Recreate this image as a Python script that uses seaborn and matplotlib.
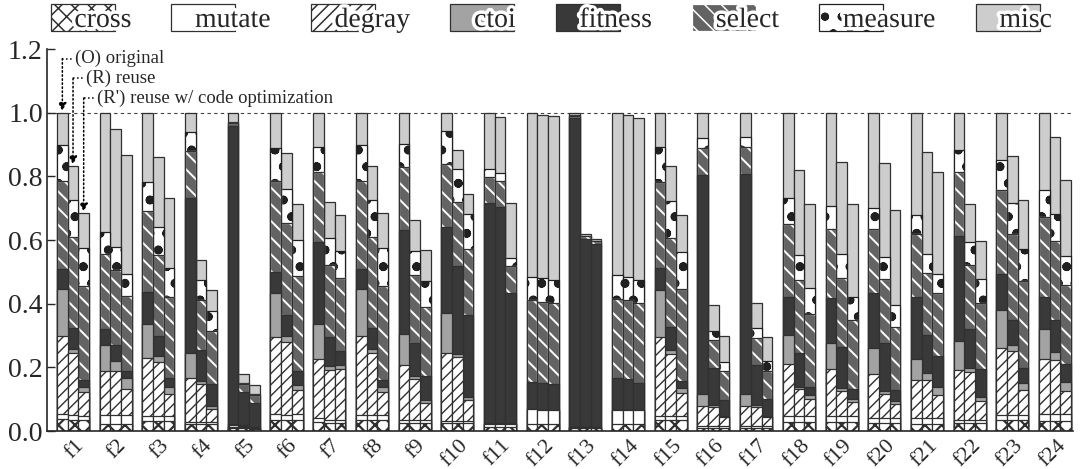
import matplotlib
matplotlib.use("Agg")
import matplotlib.pyplot as plt
import matplotlib.patheffects as pe
import matplotlib.patches as mpatches
import matplotlib.transforms as mtrans
import seaborn as sns
import pandas as pd
import numpy as np

funcs = [f"f{i}" for i in range(1, 25)]
versions = ["O", "R", "R'"]
categories = ["cross", "mutate", "degray", "ctoi", "fitness", "select", "measure", "misc"]

# (O, R, R') per function
cross = [(.037, .034, .034), (.021, .021, .021), (.031, .031, .031), (.021, .021, .021),
         (.008, .008, .005), (.034, .034, .034), (.028, .026, .026), (.034, .034, .034),
         (.026, .026, .026), (.026, .026, .024), (.012, .012, .012), (.023, .023, .023),
         (.008, .008, .008), (.021, .021, .021), (.035, .035, .035), (.008, .008, .008),
         (.008, .008, .008), (.029, .029, .029), (.029, .029, .029), (.026, .026, .026),
         (.023, .023, .023), (.026, .026, .026), (.034, .034, .034), (.031, .031, .031)]
mutate = [(.016, .016, .014), (.028, .028, .028), (.016, .016, .016), (.008, .008, .008),
          (.005, .004, .003), (.019, .016, .019), (.014, .010, .010), (.016, .016, .016),
          (.010, .010, .010), (.007, .007, .007), (.010, .010, .010), (.045, .043, .043),
          (.004, .004, .004), (.044, .044, .044), (.013, .013, .013), (.007, .007, .007),
          (.007, .007, .007), (.018, .018, .018), (.018, .018, .018), (.016, .016, .016),
          (.019, .019, .019), (.010, .010, .010), (.016, .016, .016), (.021, .021, .021)]
degray = [(.246, .195, .075), (.141, .141, .082), (.183, .171, .070), (.136, .120, .039),
          (.005, .005, .003), (.241, .231, .076), (.185, .157, .159), (.249, .195, .073),
          (.170, .128, .052), (.213, .200, .066), (.001, .001, .001), (0, 0, 0),
          (0, 0, 0), (0, 0, 0), (.248, .194, .071), (.065, .061, .028),
          (.065, .061, .028), (.162, .084, .055), (.147, .079, .044), (.138, .073, .042),
          (.117, .117, .070), (.157, .150, .058), (.210, .202, .079), (.173, .171, .075)]
ctoi = [(.147, .013, .016), (.080, .031, .034), (.105, .018, .022), (.081, .007, .009),
        (.003, .003, .002), (.141, .017, .016), (.108, .010, .012), (.147, .013, .016),
        (.099, .008, .010), (.126, .010, .009), (.001, .001, .001), (0, 0, 0),
        (0, 0, 0), (0, 0, 0), (.147, .013, .016), (.035, .005, .005),
        (.035, .005, .005), (.092, .008, .010), (.084, .008, .010), (.080, .010, .010),
        (.068, .024, .026), (.089, .013, .013), (.120, .019, .021), (.097, .026, .027)]
fitness = [(.063, .066, .021), (.049, .050, .022), (.103, .063, .028), (.485, .099, .071),
           (.937, .104, .076), (.065, .066, .044), (.260, .091, .044), (.063, .066, .021),
           (.325, .105, .075), (.269, .274, .260), (.693, .680, .410), (.087, .086, .081),
           (.972, .592, .574), (.100, .097, .085), (.069, .073, .023), (.688, .117, .050),
           (.692, .126, .052), (.120, .105, .025), (.141, .131, .032), (.175, .152, .034),
           (.194, .118, .097), (.332, .120, .087), (.112, .079, .047), (.099, .099, .057)]
select = [(.277, .285, .294), (.236, .236, .238), (.253, .254, .254), (.149, .157, .165),
          (.010, .024, .024), (.286, .289, .298), (.219, .228, .230), (.277, .285, .294),
          (.200, .212, .218), (.197, .202, .206), (.082, .082, .084), (.255, .254, .254),
          (.007, .008, .010), (.250, .250, .251), (.271, .279, .288), (.087, .089, .089),
          (.086, .086, .089), (.230, .230, .231), (.215, .215, .215), (.199, .199, .199),
          (.197, .196, .197), (.199, .204, .209), (.264, .269, .275), (.250, .248, .249)]
measure = [(.112, .117, .120), (.070, .070, .068), (.091, .089, .091), (.060, .063, .065),
           (.002, .003, .002), (.102, .107, .112), (.079, .084, .084), (.112, .117, .120),
           (.073, .076, .079), (.105, .105, .110), (.025, .026, .024), (.074, .075, .073),
           (.002, .002, .002), (.074, .072, .073), (.108, .114, .115), (.031, .028, .031),
           (.031, .031, .031), (.081, .079, .081), (.073, .075, .073), (.068, .070, .069),
           (.060, .060, .060), (.071, .071, .073), (.094, .096, .099), (.085, .087, .089)]
misc = [(.102, .106, .110), (.375, .373, .375), (.218, .219, .220), (.060, .063, .064),
        (.030, .029, .028), (.112, .113, .115), (.107, .112, .112), (.102, .106, .110),
        (.097, .099, .099), (.057, .058, .061), (.176, .173, .175), (.515, .513, .515),
        (.007, .005, .006), (.511, .510, .510), (.109, .111, .118), (.079, .080, .081),
        (.076, .079, .076), (.268, .267, .265), (.293, .291, .293), (.298, .296, .297),
        (.322, .320, .321), (.116, .119, .120), (.150, .150, .154), (.244, .241, .239)]

series = [cross, mutate, degray, ctoi, fitness, select, measure, misc]

# fill, edge (also hatch colour), hatch
styles = {
    "cross":   ("white",   "#303030", "xx"),
    "mutate":  ("white",   "#303030", ""),
    "degray":  ("white",   "#303030", "///"),
    "ctoi":    ("#a3a3a3", "#303030", ""),
    "fitness": ("#393939", "#303030", ""),
    "select":  ("#636363", "white",   "\\\\"),
    "measure": ("white",   "#202020", "o."),
    "misc":    ("#cdcdcd", "#303030", ""),
}

rows = []
for cat, vals in zip(categories, series):
    for f, trip in zip(funcs, vals):
        for v, x in zip(versions, trip):
            rows.append({"func": f, "ver": v, "cat": cat, "val": x})
df = pd.DataFrame(rows)
df["cat"] = pd.Categorical(df["cat"], categories, ordered=True)
df = df.sort_values(["func", "ver", "cat"])
df["cum"] = df.groupby(["func", "ver"], observed=True)["val"].cumsum()

sns.set_style("ticks")
plt.rcParams["font.family"] = ["Liberation Serif", "DejaVu Serif"]
plt.rcParams["hatch.linewidth"] = 1.1

fig = plt.figure(figsize=(10.8, 4.69), dpi=100)
ax = fig.add_axes([0.0435, 0.081, 0.95, 0.8145])


def draw_layer(cat, face, edge, hatch, lw=0.9, hatch_lw=None):
    sub = df[df["cat"] == cat]
    n0 = len(ax.patches)
    sns.barplot(data=sub, x="func", y="cum", hue="ver", order=funcs, hue_order=versions,
                palette=[face] * 3, errorbar=None, width=0.75, legend=False, ax=ax)
    for p in ax.patches[n0:]:
        p.set_facecolor(face)
        p.set_edgecolor(edge)
        p.set_linewidth(lw)
        p.set_hatch(hatch)
        if hatch_lw is not None and hasattr(p, "set_hatch_linewidth"):
            p.set_hatch_linewidth(hatch_lw)


for cat in categories[::-1]:
    face, edge, hatch = styles[cat]
    hlw = {"cross": 1.6, "select": 1.4, "measure": 1.6}.get(cat, 1.0)
    draw_layer(cat, face, edge, hatch, hatch_lw=hlw)
    if cat == "select":
        draw_layer(cat, "none", "#303030", "")

ax.axhline(1.0, color="#404040", ls=(0, (3, 3)), lw=0.8, zorder=0.5)

ax.set_xlim(-0.61, 23.42)
ax.set_ylim(0, 1.2)
ax.set_yticks(np.arange(0, 1.21, 0.2))
ax.set_yticklabels([f"{t:.1f}" for t in np.arange(0, 1.21, 0.2)], fontsize=20)
ax.set_xlabel("")
ax.set_ylabel("")
ax.tick_params(axis="y", direction="in", length=6, width=1, pad=3)
ax.tick_params(axis="x", length=0, pad=0)
ax.set_xticks(range(len(funcs)))
ax.set_xticklabels(funcs, rotation=45, fontsize=16, ha="right", va="center",
                   rotation_mode="anchor")
shift = mtrans.ScaledTranslation(0.08, -0.115, fig.dpi_scale_trans)
for lab in ax.get_xticklabels():
    lab.set_transform(lab.get_transform() + shift)
for s in ["top", "right"]:
    ax.spines[s].set_visible(False)
ax.spines["left"].set_linewidth(1.2)
ax.spines["bottom"].set_linewidth(1.2)

# version annotations for f1
tops = df[(df["func"] == "f1") & (df["cat"] == "misc")].set_index("ver")["cum"]
notes = [("O", "(O) original", -0.25, 1.170), ("R", "(R) reuse", 0.0, 1.108),
         ("R'", "(R') reuse w/ code optimization", 0.25, 1.046)]
for ver, label, xb, yt in notes:
    ax.plot([xb, xb + 0.27], [yt, yt], ls=":", color="black", lw=1.1, clip_on=False)
    ax.annotate("", xy=(xb, tops[ver] + 0.005), xytext=(xb, yt),
                arrowprops=dict(arrowstyle="-|>", ls=":", color="black", lw=1.1,
                                mutation_scale=12, shrinkA=0, shrinkB=0))
    ax.text(xb + 0.3, yt, label, fontsize=13.5, va="center", ha="left")

# legend
handles = []
for cat in categories:
    face, edge, hatch = styles[cat]
    h = mpatches.Patch(facecolor=face, edgecolor=edge if cat != "select" else "white",
                       hatch=hatch, linewidth=0.9)
    handles.append(h)
leg = fig.legend(handles, categories, loc="upper left", bbox_to_anchor=(0.047, 0.992),
                 ncol=8, frameon=False, fontsize=20, handlelength=2.3, handleheight=1.15,
                 handletextpad=-1.45, columnspacing=1.45, borderpad=0, borderaxespad=0)
for t in leg.get_texts():
    t.set_path_effects([pe.withStroke(linewidth=5, foreground="white")])
    t.set_zorder(5)

fig.savefig("out.png", dpi=100)
